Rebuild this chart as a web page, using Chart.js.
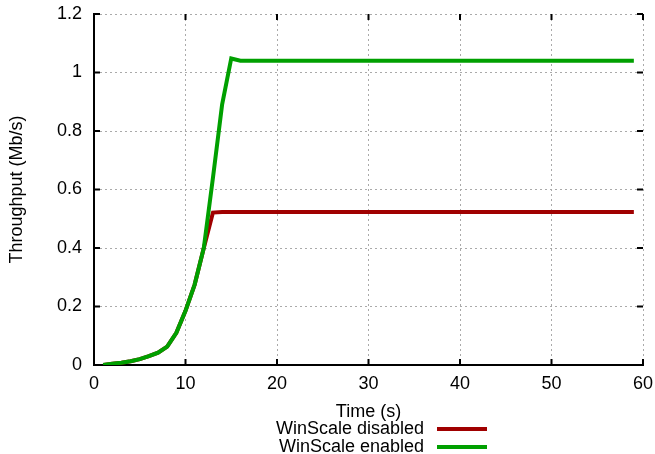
<!DOCTYPE html>
<html>
<head>
<meta charset="utf-8">
<script src="https://cdn.jsdelivr.net/npm/chart.js@4.4.1/dist/chart.umd.min.js"></script>
<style>
  html, body { margin: 0; padding: 0; background: #fff; }
  #wykres { display: block; }
</style>
</head>
<body>
<canvas id="wykres" width="655" height="454"></canvas>
<script>
// czas pomiaru [s]
var czas = [1, 2, 3, 4, 5, 6, 7, 8, 9, 10, 11, 12, 13, 14, 15, 16, 17, 18, 19, 20,
  21, 22, 23, 24, 25, 26, 27, 28, 29, 30, 31, 32, 33, 34, 35, 36, 37, 38, 39, 40,
  41, 42, 43, 44, 45, 46, 47, 48, 49, 50, 51, 52, 53, 54, 55, 56, 57, 58, 59];

// WinScale disabled [Mb/s]
var wylaczony = [0, 0.004, 0.008, 0.013, 0.02, 0.03, 0.042, 0.063, 0.11, 0.185, 0.275, 0.40,
  0.521, 0.523, 0.523, 0.523, 0.523, 0.523, 0.523, 0.523,
  0.523, 0.523, 0.523, 0.523, 0.523, 0.523, 0.523, 0.523, 0.523, 0.523,
  0.523, 0.523, 0.523, 0.523, 0.523, 0.523, 0.523, 0.523, 0.523, 0.523,
  0.523, 0.523, 0.523, 0.523, 0.523, 0.523, 0.523, 0.523, 0.523, 0.523,
  0.523, 0.523, 0.523, 0.523, 0.523, 0.523, 0.523, 0.523, 0.523];

// WinScale enabled [Mb/s]
var wlaczony = [0, 0.004, 0.008, 0.013, 0.02, 0.03, 0.042, 0.063, 0.11, 0.185, 0.275, 0.40,
  0.64, 0.89, 1.048, 1.04, 1.04, 1.04, 1.04, 1.04,
  1.04, 1.04, 1.04, 1.04, 1.04, 1.04, 1.04, 1.04, 1.04, 1.04,
  1.04, 1.04, 1.04, 1.04, 1.04, 1.04, 1.04, 1.04, 1.04, 1.04,
  1.04, 1.04, 1.04, 1.04, 1.04, 1.04, 1.04, 1.04, 1.04, 1.04,
  1.04, 1.04, 1.04, 1.04, 1.04, 1.04, 1.04, 1.04, 1.04];

var etykiety = ["WinScale disabled", "WinScale enabled"];
var kolory = ["#a00000", "#00a000"];

var czcionka = "'Liberation Sans', Arial, Helvetica, sans-serif";

function punkty(wartosci) {
  return czas.map(function (t, i) { return { x: t, y: wartosci[i] }; });
}

// kreski podzialki do srodka wykresu (jak w gnuplocie)
var kreski = {
  id: 'kreski',
  afterDraw: function (chart) {
    var ctx = chart.ctx, a = chart.chartArea;
    var sx = chart.scales.x, sy = chart.scales.y;
    ctx.save();
    ctx.strokeStyle = '#000';
    ctx.lineWidth = 2;
    ctx.beginPath();
    sx.ticks.forEach(function (t) {
      var px = sx.getPixelForValue(t.value);
      ctx.moveTo(px, a.bottom); ctx.lineTo(px, a.bottom - 6);
      ctx.moveTo(px, a.top); ctx.lineTo(px, a.top + 6);
    });
    sy.ticks.forEach(function (t) {
      var py = sy.getPixelForValue(t.value);
      ctx.moveTo(a.left, py); ctx.lineTo(a.left + 6, py);
      ctx.moveTo(a.right, py); ctx.lineTo(a.right - 6, py);
    });
    ctx.stroke();

    // legenda pod osia
    ctx.font = '18px ' + czcionka;
    ctx.textAlign = 'right';
    ctx.textBaseline = 'middle';
    ctx.fillStyle = '#000';
    chart.data.datasets.forEach(function (ds, i) {
      var y = 429 + i * 18;
      ctx.fillText(ds.label, 424, y);
      ctx.strokeStyle = ds.borderColor;
      ctx.lineWidth = 4;
      ctx.beginPath();
      ctx.moveTo(437, y); ctx.lineTo(487, y);
      ctx.stroke();
    });
    ctx.restore();
  }
};

var ctx = document.getElementById('wykres');

new Chart(ctx, {
  type: 'line',
  data: {
    datasets: [{
        label: etykiety[0],
        data: punkty(wylaczony),
        borderColor: kolory[0],
        backgroundColor: kolory[0],
        borderWidth: 4,
        pointRadius: 0,
        fill: false,
        tension: 0,
        order: 1
      },
      {
        label: etykiety[1],
        data: punkty(wlaczony),
        borderColor: kolory[1],
        backgroundColor: kolory[1],
        borderWidth: 4,
        pointRadius: 0,
        fill: false,
        tension: 0,
        order: 0
      }
    ]
  },
  options: {
    responsive: false,
    animation: false,
    layout: { padding: { top: 14, right: 12, bottom: 27, left: 2 } },
    plugins: {
      legend: { display: false },
      tooltip: { enabled: false }
    },
    scales: {
      x: {
        type: 'linear',
        min: 0,
        max: 60,
        ticks: { stepSize: 10, padding: 8, color: '#000', font: { size: 18, family: czcionka } },
        grid: { color: '#aaaaaa', lineWidth: 1, drawTicks: false, tickLength: 0 },
        border: { display: true, color: '#000', width: 2, dash: [2, 3] },
        title: { display: true, text: 'Time (s)', color: '#000', font: { size: 18, family: czcionka }, padding: { top: 4, bottom: 4 } },
        afterFit: function (s) { s.height = 62; s.paddingLeft = 0; s.paddingRight = 0; }
      },
      y: {
        min: 0,
        max: 1.2,
        ticks: {
          stepSize: 0.2, padding: 12, color: '#000', font: { size: 18, family: czcionka },
          callback: function (v) { return String(Math.round(v * 10) / 10); }
        },
        grid: { color: '#aaaaaa', lineWidth: 1, drawTicks: false, tickLength: 0 },
        border: { display: true, color: '#000', width: 2, dash: [2, 3] },
        title: { display: true, text: 'Throughput (Mb/s)', color: '#000', font: { size: 18, family: czcionka }, padding: { top: 4, bottom: 4 } },
        afterFit: function (s) { s.width = 92; s.paddingTop = 0; s.paddingBottom = 0; }
      }
    }
  },
  plugins: [kreski]
});
</script>
</body>
</html>
